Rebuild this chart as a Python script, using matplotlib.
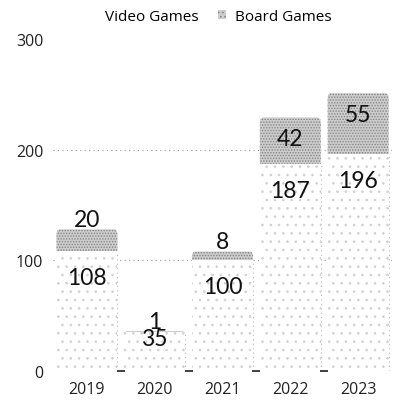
import matplotlib
matplotlib.use("Agg")
import matplotlib.pyplot as plt
from matplotlib.patches import FancyBboxPatch, Patch

# Data
years = ["2019", "2020", "2021", "2022", "2023"]
video_games = [108, 35, 100, 187, 196]
board_games = [20, 1, 8, 42, 55]
y_ticks = [0, 100, 200, 300]

plt.rcParams["hatch.linewidth"] = 0.7

fig = plt.figure(figsize=(3.96, 4.02), dpi=100)
ax = fig.add_axes([0.134, 0.0746, 0.856, 0.8259])

x = list(range(len(years)))
bar_w = 0.9

# gridlines
for t in y_ticks[:-1]:
    ax.axhline(t, color="#9a9a9a", lw=0.8, ls=(0, (1, 3)), zorder=0)

# video games: white bars with light stipple
vbars = ax.bar(x, video_games, width=bar_w, color="white", edgecolor="#d2d2d2",
               hatch="..", lw=0, zorder=1)
for b in vbars:
    # dotted right edge
    ax.plot([b.get_x() + b.get_width()] * 2, [0, b.get_height()],
            color="#bdbdbd", lw=0.8, ls=(0, (1, 3)), zorder=1.5)

# board games: grey stippled bars with rounded top corners
gbars = ax.bar(x, board_games, width=bar_w, bottom=video_games, color="none",
               lw=0, zorder=1)
aspect = 95  # data-units of y per data-unit of x on screen (approx.)
r = 0.05
for b in gbars:
    bx, by, bw, bh = b.get_x(), b.get_y(), b.get_width(), b.get_height()
    extra = r * aspect
    patch = FancyBboxPatch((bx, by - extra), bw, bh + extra,
                           boxstyle=f"round,pad=0,rounding_size={r}",
                           mutation_aspect=aspect, facecolor="#cdcdcd",
                           edgecolor="#858585", hatch="......", lw=0, zorder=2)
    ax.add_patch(patch)
    clip = plt.Rectangle((bx - 0.1, by), bw + 0.2, bh + 40,
                         transform=ax.transData)
    patch.set_clip_path(clip)

# category boundary ticks on the baseline
ax.plot([i + 0.5 for i in x[:-1]], [0] * (len(x) - 1), marker="_", ms=6,
        mew=1.3, color="#333333", ls="none", zorder=3, clip_on=False)

label_font = dict(family=["Lato", "DejaVu Sans"], fontsize=16.5, color="#111111")
px_per_unit = 332 / 300.0
for i, (v, g) in enumerate(zip(video_games, board_games)):
    # video games label inside the top of the bar
    v_off = 26 if v * px_per_unit > 60 else 6
    ax.annotate(str(v), (i, v), xytext=(0, -v_off * 0.72), textcoords="offset points",
                ha="center", va="center", zorder=4, **label_font)
    # board games label: inside when there's room, otherwise just above
    top = v + g
    g_off = -21 if g * px_per_unit > 40 else 10
    ax.annotate(str(g), (i, top), xytext=(0, g_off * 0.72), textcoords="offset points",
                ha="center", va="center", zorder=4, **label_font)

ax.set_xlim(-0.5, len(years) - 0.5)
ax.set_ylim(0, 300)
ax.set_xticks(x)
ax.set_xticklabels(years)
ax.set_yticks(y_ticks)
ax.tick_params(length=0, labelsize=11.5, colors="#222222")
ax.tick_params(axis="x", pad=7)
ax.tick_params(axis="y", pad=7)
for lab in ax.get_xticklabels() + ax.get_yticklabels():
    lab.set_family(["Open Sans", "DejaVu Sans"])
for s in ax.spines.values():
    s.set_visible(False)

handles = [Patch(facecolor="white", edgecolor="none"),
           Patch(facecolor="#cdcdcd", edgecolor="#8a8a8a", hatch="....", lw=0)]
fig.legend(handles, ["Video Games", "Board Games"], loc="upper center",
           bbox_to_anchor=(0.53, 1.01), ncol=2, frameon=False,
           handlelength=0.5, handleheight=0.5, handletextpad=0.6,
           columnspacing=1.3, prop={"family": ["Open Sans", "DejaVu Sans"],
                                    "size": 11})

fig.savefig("out.png", dpi=100)
